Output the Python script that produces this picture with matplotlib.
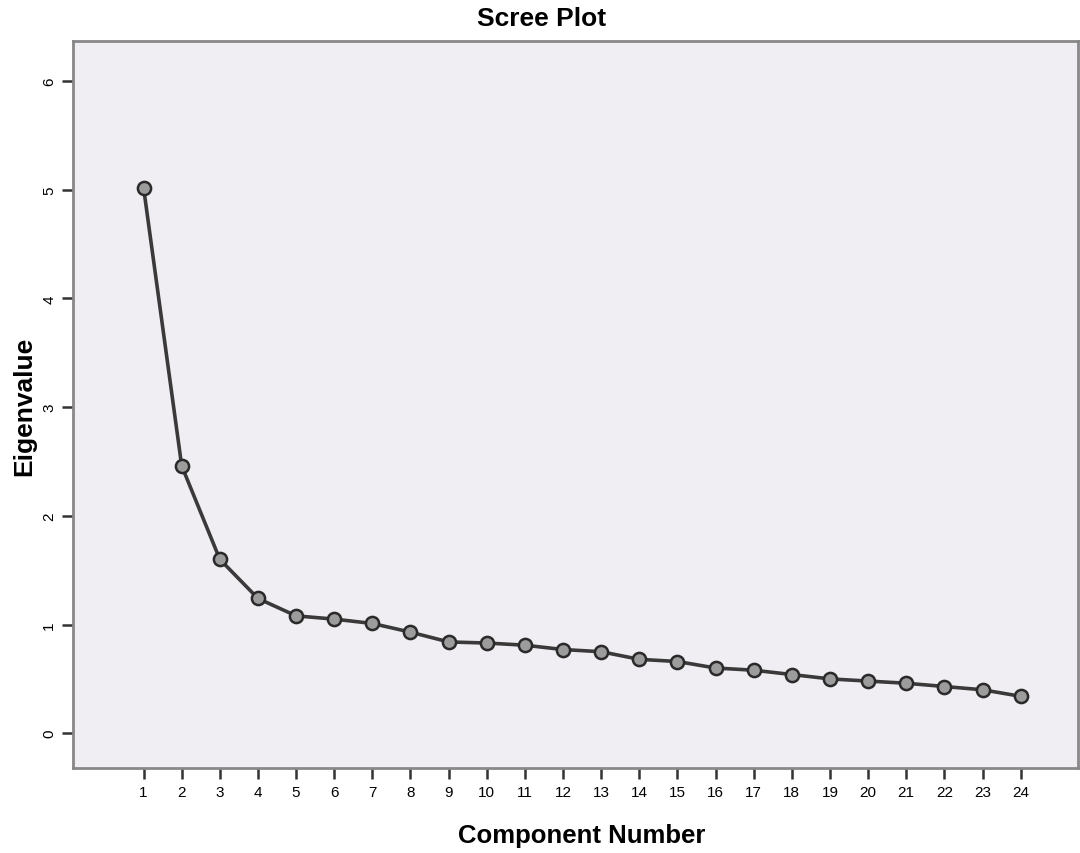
import matplotlib
matplotlib.use("Agg")
import matplotlib.pyplot as plt

plt.rcParams["font.family"] = ["Liberation Sans", "DejaVu Sans"]

components = list(range(1, 25))
eigenvalues = [5.02, 2.46, 1.60, 1.24, 1.08, 1.05, 1.01, 0.93, 0.84, 0.83, 0.81, 0.77,
               0.75, 0.68, 0.66, 0.60, 0.58, 0.54, 0.50, 0.48, 0.46, 0.43, 0.40, 0.34]
y_ticks = [0, 1, 2, 3, 4, 5, 6]

fig = plt.figure(figsize=(10.8, 8.54), dpi=100)
ax = fig.add_axes([0.0676, 0.0995, 0.9304, 0.8515])
ax.set_facecolor("#f0eef3")

ax.plot(components, eigenvalues, color="#3a3a3a", linewidth=2.6,
        marker="o", markersize=9.5, markerfacecolor="#9c9c9c",
        markeredgecolor="#2a2a2a", markeredgewidth=1.8)

ax.set_xlim(-0.85, 25.5)
ax.set_ylim(-0.32, 6.37)
ax.set_xticks(components)
ax.set_xticklabels([str(c) for c in components], fontsize=11)
ax.set_yticks(y_ticks)
ax.set_yticklabels([str(v) for v in y_ticks], fontsize=11, rotation=90, va="center")

ax.tick_params(axis="both", length=8, width=1.8, color="#333333", pad=4)
for side in ["left", "bottom", "top", "right"]:
    ax.spines[side].set_color("#888888")
    ax.spines[side].set_linewidth(2)

fig.text(542 / 1080, 1 - 19 / 854, "Scree Plot", ha="center", va="center",
         fontsize=19, fontweight="bold")
fig.text(582 / 1080, 1 - 836 / 854, "Component Number", ha="center", va="center",
         fontsize=18.5, fontweight="bold")
fig.text(24 / 1080, 1 - 406 / 854, "Eigenvalue", ha="center", va="center",
         rotation=90, fontsize=19, fontweight="bold")

fig.savefig("out.png", dpi=100)
